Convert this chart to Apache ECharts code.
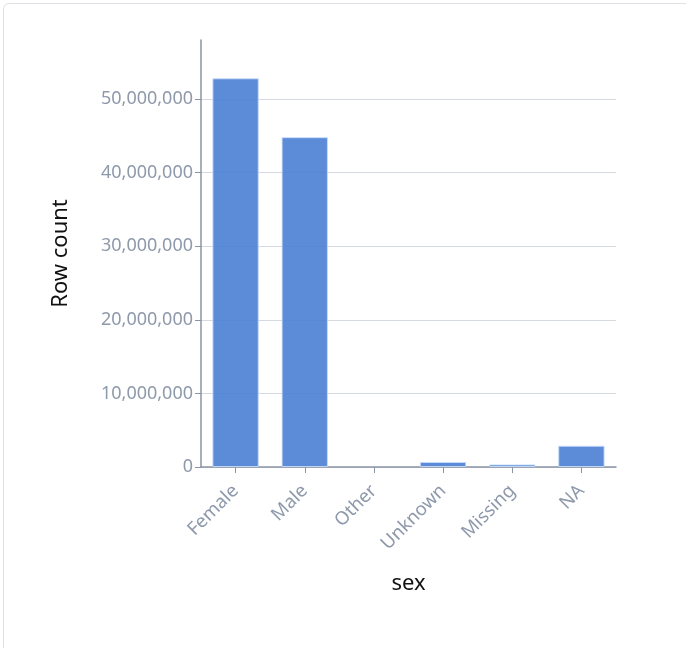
<!DOCTYPE html>
<html>
<head>
<meta charset="utf-8">
<script src="https://cdn.jsdelivr.net/npm/echarts@6/dist/echarts.min.js"></script>
<style>
  html, body { margin: 0; padding: 0; background: #fff; overflow: hidden; }
  #frame { position: absolute; left: 3px; top: 3px; width: 720px; height: 720px; border: 1px solid #dde1e6; border-radius: 6px; box-sizing: border-box; }
  #chart { position: absolute; left: 0; top: 0; width: 686px; height: 648px; }
</style>
</head>
<body>
<div id="frame"></div>
<div id="chart"></div>
<script>
const categories = ["Female", "Male", "Other", "Unknown", "Missing", "NA"];
const rowCounts = [52800000, 44800000, 0, 680000, 350000, 2890000];
const yTicks = [0, 10000000, 20000000, 30000000, 40000000, 50000000];

const font = "'Noto Sans', 'Open Sans', sans-serif";
const chart = echarts.init(document.getElementById('chart'), null, { renderer: 'canvas' });
chart.setOption({
  backgroundColor: 'transparent',
  animation: false,
  grid: { left: 201, right: 70, top: 40, bottom: 181, containLabel: false },
  xAxis: {
    type: 'category',
    data: categories,
    name: 'sex',
    nameLocation: 'middle',
    nameGap: 106,
    nameTextStyle: { color: '#111', fontSize: 22, fontFamily: font },
    axisLine: { lineStyle: { color: '#8a94a6', width: 1.5 } },
    axisTick: { show: true, alignWithLabel: true, length: 6, lineStyle: { color: '#8a94a6' } },
    axisLabel: { rotate: 45, color: '#8e99ab', fontSize: 18.5, fontFamily: font, margin: 21 },
    splitLine: { show: false }
  },
  yAxis: {
    type: 'value',
    min: 0,
    max: 58000000,
    interval: 10000000,
    name: 'Row count',
    nameLocation: 'middle',
    nameGap: 129,
    nameRotate: 90,
    nameTextStyle: { color: '#111', fontSize: 22, fontFamily: font },
    axisLine: { show: true, lineStyle: { color: '#8a94a6', width: 1.5 } },
    axisTick: { show: true, length: 6, customValues: yTicks, lineStyle: { color: '#8a94a6' } },
    axisLabel: {
      customValues: yTicks,
      color: '#8e99ab', fontSize: 18, fontFamily: font, margin: 8,
      formatter: v => Number(v).toLocaleString('en-US')
    },
    splitLine: { show: true, lineStyle: { color: '#d5d9e0', width: 1.2 } }
  },
  series: [{
    type: 'bar',
    data: rowCounts.map(v => v === 0 ? { value: v, itemStyle: { borderWidth: 0 } } : v),
    barWidth: '67%',
    itemStyle: { color: 'rgba(74,128,212,0.9)', borderColor: 'rgba(200,220,250,0.9)', borderWidth: 1 }
  }]
});
</script>
</body>
</html>
